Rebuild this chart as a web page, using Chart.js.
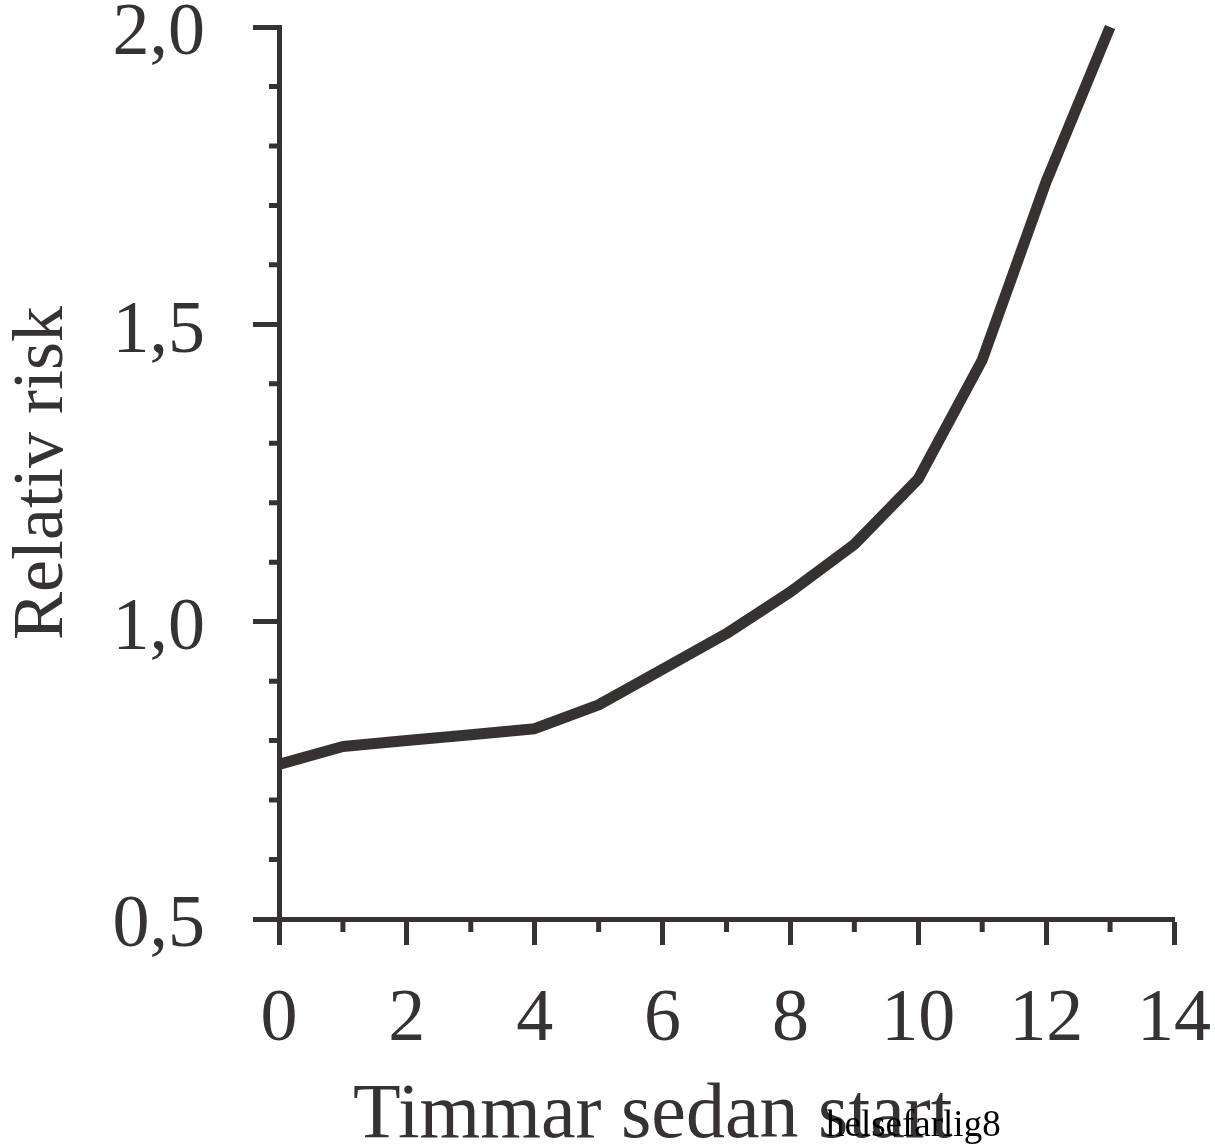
<!DOCTYPE html>
<html lang="sv">
<head>
  <meta charset="UTF-8" />
  <title>Relativ risk</title>
  <style>
    body {
      margin: 0;
      background: #fff;
    }
    canvas {
      display: block;
    }
  </style>
</head>
<body>
  <canvas id="riskChart" width="1215" height="1146"></canvas>

  <script src="https://cdn.jsdelivr.net/npm/chart.js"></script>
  <script>
    const hours = [0, 1, 2, 3, 4, 5, 6, 7, 8, 9, 10, 11, 12, 13];
    const relRisk = [0.76, 0.79, 0.80, 0.81, 0.82, 0.86, 0.92, 0.98, 1.05, 1.13, 1.24, 1.44, 1.74, 2.0];

    const xMinorTicks = [1, 3, 5, 7, 9, 11, 13];
    const yMinorTicks = [0.6, 0.7, 0.8, 0.9, 1.1, 1.2, 1.3, 1.4, 1.6, 1.7, 1.8, 1.9];

    const xTitle = 'Timmar sedan start';
    const yTitle = 'Relativ risk';
    const stamp = 'helsefarlig8';

    const ink = '#363232';
    const serif = "'Liberation Serif', 'DejaVu Serif', serif";

    // short ticks + x title + the stamp in the corner
    const extras = {
      id: 'extras',
      afterDraw(chart) {
        const ctx = chart.ctx;
        const xs = chart.scales.x;
        const ys = chart.scales.y;
        const area = chart.chartArea;
        ctx.save();
        ctx.strokeStyle = ink;
        ctx.lineWidth = 5;
        ctx.beginPath();
        yMinorTicks.forEach(v => {
          const py = ys.getPixelForValue(v);
          ctx.moveTo(area.left - 10, py);
          ctx.lineTo(area.left, py);
        });
        xMinorTicks.forEach(v => {
          const px = xs.getPixelForValue(v);
          ctx.moveTo(px, area.bottom);
          ctx.lineTo(px, area.bottom + 13);
        });
        ctx.stroke();

        ctx.fillStyle = ink;
        ctx.font = '78px ' + serif;
        ctx.textAlign = 'left';
        ctx.textBaseline = 'alphabetic';
        ctx.fillText(xTitle, 353, 1137);

        ctx.fillStyle = '#000';
        ctx.font = '37px ' + serif;
        ctx.fillText(stamp, 826, 1136);
        ctx.restore();
      }
    };

    new Chart(document.getElementById('riskChart'), {
      type: 'line',
      data: {
        datasets: [{
          data: hours.map((h, i) => ({ x: h, y: relRisk[i] })),
          borderColor: ink,
          borderWidth: 11,
          borderCapStyle: 'butt',
          borderJoinStyle: 'round',
          pointRadius: 0,
          tension: 0,
          fill: false,
          clip: 12
        }]
      },
      options: {
        responsive: false,
        devicePixelRatio: 1,
        animation: false,
        layout: {
          padding: { top: 27, right: 41, bottom: 0, left: 0 }
        },
        plugins: {
          legend: { display: false },
          tooltip: { enabled: false }
        },
        scales: {
          x: {
            type: 'linear',
            min: 0,
            max: 14,
            afterFit: s => {
              s.height = 227;
              s.paddingLeft = 0;
              s.paddingRight = 0;
            },
            ticks: {
              stepSize: 2,
              padding: 39,
              color: ink,
              font: { family: serif, size: 74, lineHeight: 1 },
              maxRotation: 0
            },
            grid: {
              drawOnChartArea: false,
              drawTicks: true,
              tickLength: 26,
              tickWidth: 5,
              tickColor: ink
            },
            border: { display: true, width: 5, color: ink }
          },
          y: {
            min: 0.5,
            max: 2.0,
            afterFit: s => {
              s.width = 279;
              s.paddingTop = 0;
              s.paddingBottom = 0;
            },
            ticks: {
              stepSize: 0.5,
              padding: 48,
              labelOffset: 8,
              color: ink,
              font: { family: serif, size: 74, lineHeight: 1 },
              callback: v => v.toFixed(1).replace('.', ',')
            },
            grid: {
              drawOnChartArea: false,
              drawTicks: true,
              tickLength: 26,
              tickWidth: 5,
              tickColor: ink
            },
            border: { display: true, width: 5, color: ink },
            title: {
              display: true,
              text: yTitle,
              color: ink,
              font: { family: serif, size: 72 },
              padding: 0
            }
          }
        }
      },
      plugins: [extras]
    });
  </script>
</body>
</html>
